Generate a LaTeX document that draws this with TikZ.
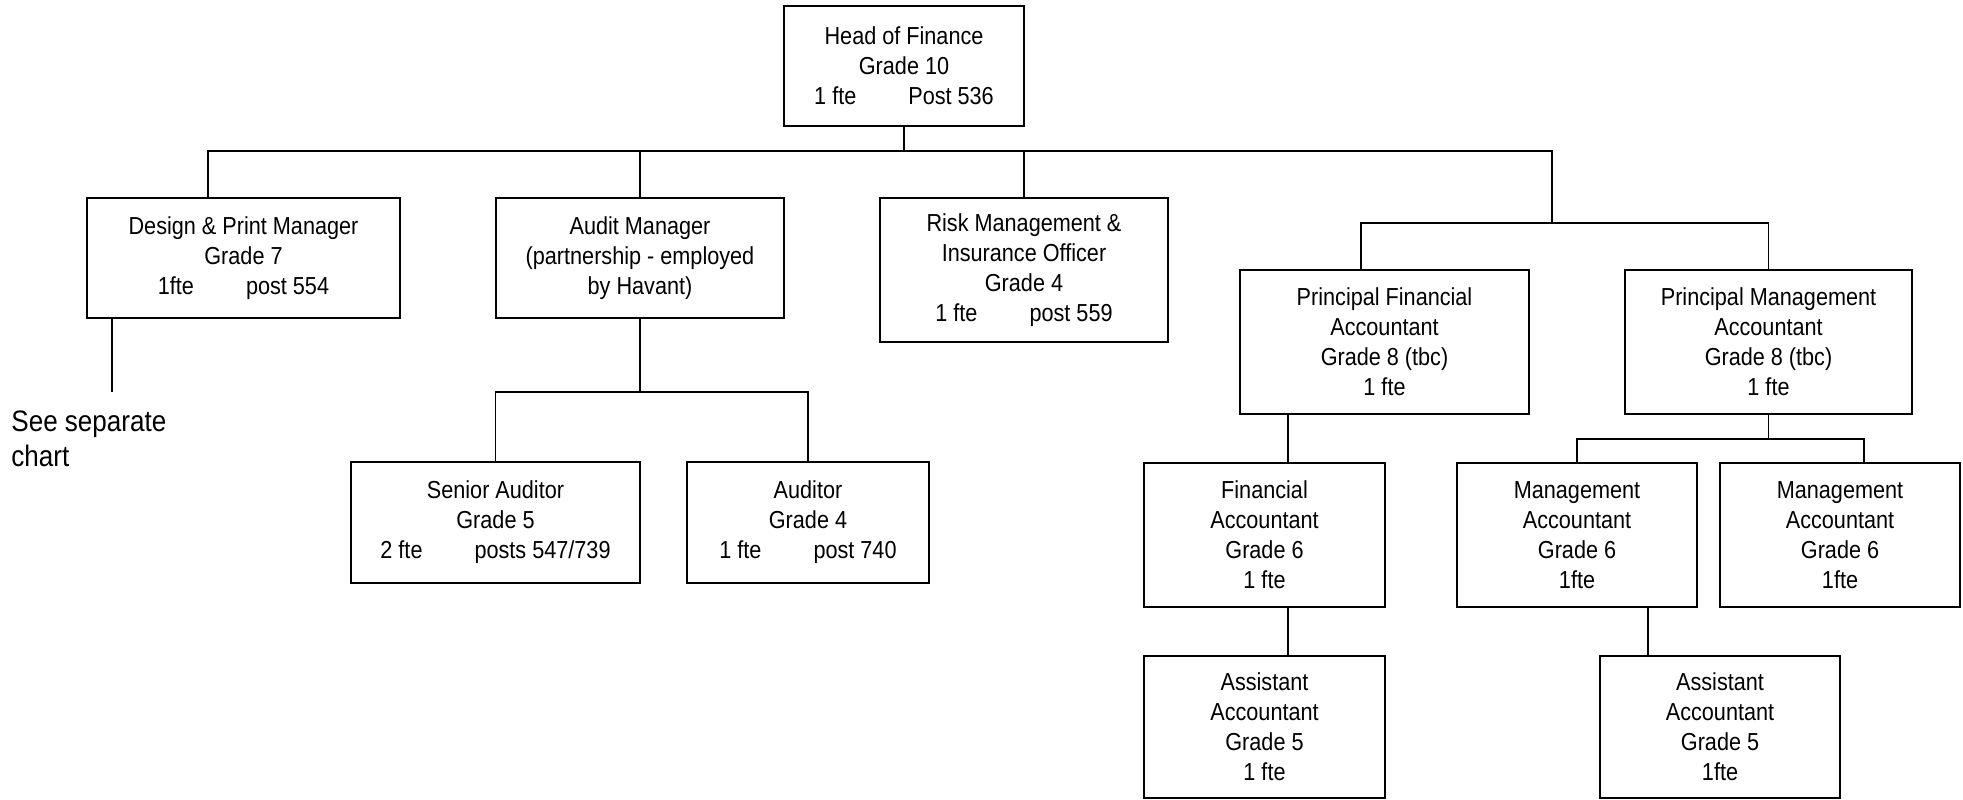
\documentclass[tikz,border=0pt]{standalone}
\usepackage{fontspec}
\setmainfont{Liberation Sans}[FakeStretch=0.88]
\begin{document}
\begin{tikzpicture}[x=0.5pt,y=-0.5pt,
  post/.style={draw=black, line width=0.8pt, fill=white, inner sep=0pt,
    align=center, font=\fontsize{12.3pt}{15pt}\selectfont},
  link/.style={draw=black, line width=0.6pt},
  note/.style={inner sep=0pt, align=left, font=\fontsize{14.8pt}{17.5pt}\selectfont}]
\useasboundingbox (0,0) rectangle (1963,799);
\newcommand{\gapfill}{\hspace{26pt}}

% boxes
\node[post, minimum width=120pt, minimum height=60pt] (head) at (904,66)
  {Head of Finance\\Grade 10\\1 fte\gapfill Post 536};
\node[post, minimum width=156.5pt, minimum height=60pt] (design) at (243.5,258)
  {Design \& Print Manager\\Grade 7\\1fte\gapfill post 554};
\node[post, minimum width=144pt, minimum height=60pt] (audit) at (640,258)
  {Audit Manager\\(partnership - employed\\by Havant)};
\node[post, minimum width=144pt, minimum height=72pt] (risk) at (1024,270)
  {Risk Management \&\\Insurance Officer\\Grade 4\\1 fte\gapfill post 559};
\node[post, minimum width=144.5pt, minimum height=72pt] (pfa) at (1384.5,342)
  {Principal Financial\\Accountant\\Grade 8 (tbc)\\1 fte};
\node[post, minimum width=143.5pt, minimum height=72pt] (pma) at (1768.5,342)
  {Principal Management\\Accountant\\Grade 8 (tbc)\\1 fte};
\node[post, minimum width=144.5pt, minimum height=60.5pt] (senior) at (495.5,522.5)
  {Senior Auditor\\Grade 5\\2 fte\gapfill posts 547/739};
\node[post, minimum width=121pt, minimum height=60.5pt] (auditor) at (808,522.5)
  {Auditor\\Grade 4\\1 fte\gapfill post 740};
\node[post, minimum width=120.5pt, minimum height=72pt] (fa) at (1264.5,535)
  {Financial\\Accountant\\Grade 6\\1 fte};
\node[post, minimum width=120pt, minimum height=72pt] (ma1) at (1577,535)
  {Management\\Accountant\\Grade 6\\1fte};
\node[post, minimum width=120pt, minimum height=72pt] (ma2) at (1840,535)
  {Management\\Accountant\\Grade 6\\1fte};
\node[post, minimum width=120.5pt, minimum height=71pt] (aa1) at (1264.5,727)
  {Assistant\\Accountant\\Grade 5\\1 fte};
\node[post, minimum width=120pt, minimum height=71pt] (aa2) at (1720,727)
  {Assistant\\Accountant\\Grade 5\\1fte};

\node[note, anchor=north west] (sep) at (11,410) {See separate\\chart};

% junction points of the connector lines
\coordinate (busL) at (208,151);
\coordinate (busR) at (1552,151);
\coordinate (rbus) at (1552,223);
\coordinate (pfax) at (1361,223);
\coordinate (dsep) at (112,392);
\coordinate (abus) at (640,392);
\coordinate (fax) at (1288,440);
\coordinate (mbus) at (1769,439);
\coordinate (mbusR) at (1864,439);
\coordinate (aax) at (1648,630);

% connectors
\draw[link] (head.south) -- (head.south |- busL);
\draw[link] (busL |- design.north) -- (busL) -- (busR) -- (rbus);
\draw[link] (audit.north) -- (audit.north |- busL);
\draw[link] (risk.north) -- (risk.north |- busL);
\draw[link] (pfax |- pfa.north) -- (pfax) -- (pma.north |- rbus) -- (pma.north);
\draw[link] (dsep |- design.south) -- (dsep);
\draw[link] (audit.south) -- (abus);
\draw[link] (senior.north) -- (senior.north |- abus) -- (auditor.north |- abus) -- (auditor.north);
\draw[link] (fax |- pfa.south) -- (fax |- fa.north);
\draw[link] (fax |- fa.south) -- (fax |- aa1.north);
\draw[link] (pma.south) -- (pma.south |- mbus);
\draw[link] (ma1.north) -- (ma1.north |- mbus) -- (mbusR) -- (mbusR |- ma2.north);
\draw[link] (aax |- ma1.south) -- (aax |- aa2.north);
\end{tikzpicture}
\end{document}
